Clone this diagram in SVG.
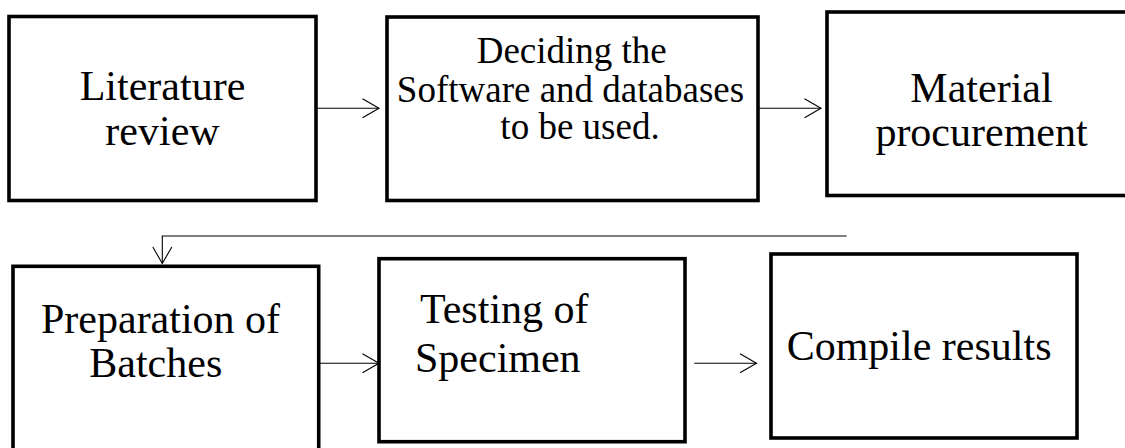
<svg xmlns="http://www.w3.org/2000/svg" width="1125" height="448" viewBox="0 0 1125 448">
  <style>
    .box { fill: #ffffff; stroke: #000000; stroke-width: 3.6; }
    .lbl { font-family: "Liberation Serif", "Times New Roman", serif; font-size: 42px; fill: #000000; }
    .lbl-sm { font-family: "Liberation Serif", "Times New Roman", serif; font-size: 37px; fill: #000000; }
    .mid { text-anchor: middle; }
    .conn { fill: none; stroke: #000000; stroke-width: 1.1; }
  </style>
  <defs>
    <marker id="chev" markerUnits="userSpaceOnUse" markerWidth="20" markerHeight="22" refX="0" refY="0" orient="auto" overflow="visible">
      <path d="M-16.5,-9.5 L0,0 L-16.5,9.5" fill="none" stroke="#000000" stroke-width="1.1"/>
    </marker>
  </defs>
  <rect width="1125" height="448" fill="#ffffff"/>

  <!-- connectors -->
  <g id="connectors">
    <line class="conn" x1="316" y1="108.3" x2="379" y2="108.3" marker-end="url(#chev)"/>
    <line class="conn" x1="758" y1="108.3" x2="821" y2="108.3" marker-end="url(#chev)"/>
    <polyline class="conn" points="846.7,236 162.3,236 162.3,263.5" marker-end="url(#chev)"/>
    <line class="conn" x1="320" y1="363.3" x2="379" y2="363.3" marker-end="url(#chev)"/>
    <line class="conn" x1="694.3" y1="363.3" x2="756.5" y2="363.3" marker-end="url(#chev)"/>
  </g>

  <!-- row 1 -->
  <g id="literature-review">
    <rect class="box" x="9" y="16.5" width="307" height="184"/>
    <text class="lbl mid" x="162.5" y="100">Literature</text>
    <text class="lbl mid" x="162.5" y="145">review</text>
  </g>
  <g id="software-selection">
    <rect class="box" x="387" y="17" width="371" height="183.5"/>
    <text class="lbl-sm mid" x="571.7" y="63.3">Deciding the</text>
    <text class="lbl-sm mid" x="570.5" y="101.7">Software and databases</text>
    <text class="lbl-sm mid" x="580" y="139.3">to be used.</text>
  </g>
  <g id="material-procurement">
    <rect class="box" x="827" y="12" width="320" height="183.5"/>
    <text class="lbl mid" x="981.5" y="102.3">Material</text>
    <text class="lbl mid" x="981.5" y="145.7">procurement</text>
  </g>

  <!-- row 2 -->
  <g id="batch-preparation">
    <rect class="box" x="13" y="266.3" width="305.7" height="200"/>
    <text class="lbl" x="41" y="333.3">Preparation of</text>
    <text class="lbl" x="89.3" y="376.7">Batches</text>
  </g>
  <g id="specimen-testing">
    <rect class="box" x="379" y="258.7" width="306" height="183"/>
    <text class="lbl" x="420" y="323.3">Testing of</text>
    <text class="lbl" x="415" y="371.7">Specimen</text>
  </g>
  <g id="compile-results">
    <rect class="box" x="771" y="254" width="306" height="184"/>
    <text class="lbl" x="786.7" y="360">Compile results</text>
  </g>
</svg>
